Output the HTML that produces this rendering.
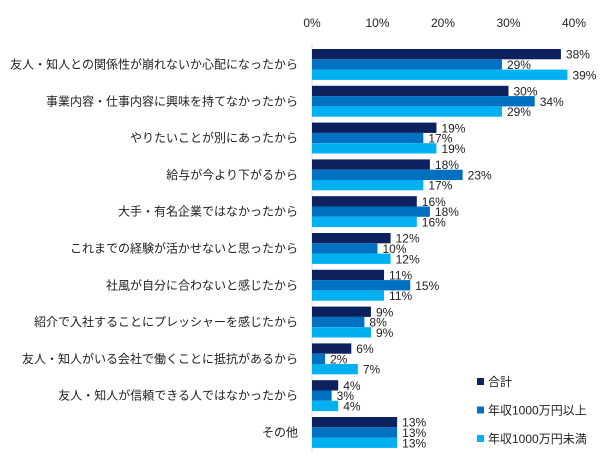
<!DOCTYPE html>
<html><head><meta charset="utf-8">
<style>
body{margin:0;background:#fff;}
svg{display:block;font-family:"Liberation Sans","Noto Sans CJK JP",sans-serif;}
</style></head><body>
<svg id="chart" width="616" height="463" viewBox="0 0 616 463"></svg>
<script>
const categories=["友人・知人との関係性が崩れないか心配になったから","事業内容・仕事内容に興味を持てなかったから","やりたいことが別にあったから","給与が今より下がるから","大手・有名企業ではなかったから","これまでの経験が活かせないと思ったから","社風が自分に合わないと感じたから","紹介で入社することにプレッシャーを感じたから","友人・知人がいる会社で働くことに抵抗があるから","友人・知人が信頼できる人ではなかったから","その他"];
const seriesTotal=[38,30,19,18,16,12,11,9,6,4,13];
const seriesHigh=[29,34,17,23,18,10,15,8,2,3,13];
const seriesLow=[39,29,19,17,16,12,11,9,7,4,13];
const seriesNames=["合計","年収1000万円以上","年収1000万円未満"];
const ticks=[0,10,20,30,40];
const colors=["#0d215f","#0070c0","#00b0f0"];
const svg=document.getElementById('chart');
const NS="http://www.w3.org/2000/svg";
const x0=312,pxPer=6.55,top0=49,groupH=36.8,barH=10.3;
const xs=v=>x0+v*pxPer;
function mk(tag,attrs,text){const e=document.createElementNS(NS,tag);for(const k in attrs)e.setAttribute(k,attrs[k]);if(text!==undefined)e.textContent=text;svg.appendChild(e);return e;}
ticks.forEach(t=>{
 const e=mk('text',{x:xs(t),y:27,'font-size':12,'text-anchor':'middle',fill:'#222'},t+'%');
 
 
});
const ax=mk('line',{x1:x0,x2:x0,y1:44,y2:452,stroke:'#d9d9d9','stroke-width':1});


const all=[seriesTotal,seriesHigh,seriesLow];
categories.forEach((c,i)=>{
 const gy=top0+i*groupH;
 const l=mk('text',{x:298,y:gy+barH*1.5+4,'font-size':12,'text-anchor':'end',fill:'#222'},c);
 
 
 all.forEach((s,j)=>{
  const y=gy+j*barH;
  const r=mk('rect',{x:x0,y:y,width:s[i]*pxPer,height:barH,fill:colors[j]});
  
  
  const t=mk('text',{x:xs(s[i])+5,y:y+barH/2+4.5,'font-size':12,fill:'#222'},s[i]+'%');
  
  
 });
});
seriesNames.forEach((n,j)=>{
 const y=384+j*28.5;
 const r=mk('rect',{x:477,y:y-6,width:7,height:7,fill:colors[j]});
 
 
 const t=mk('text',{x:488,y:y+2,'font-size':12,fill:'#222'},n);
 
 
});
</script>
</body></html>
